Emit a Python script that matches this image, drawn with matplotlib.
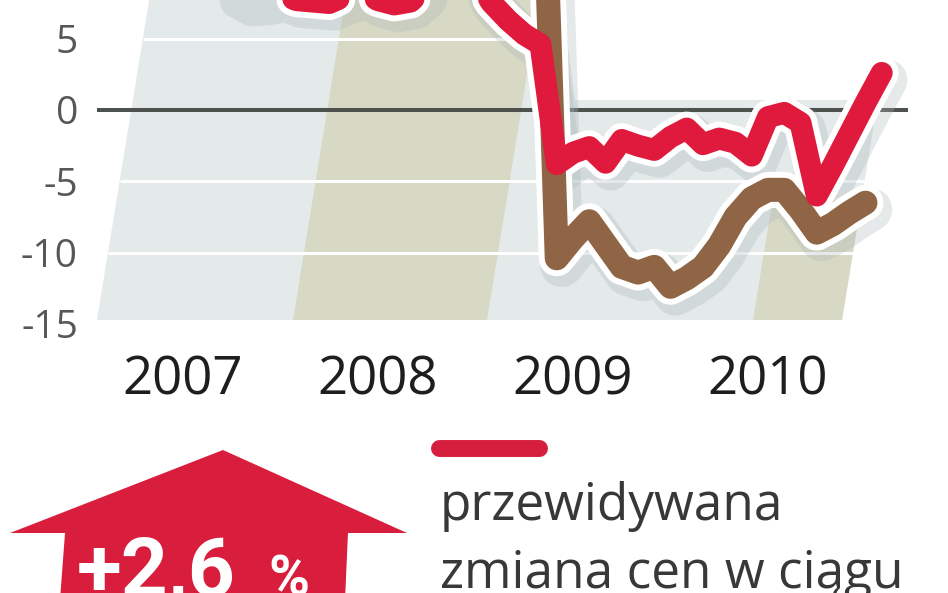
import numpy as np
import matplotlib.pyplot as plt
from matplotlib.patches import Polygon
from matplotlib import transforms

plt.rcParams['font.family'] = ['Open Sans', 'DejaVu Sans']

# month index, 0 = January 2007
months_red = np.arange(-6, 44)
months_brown = np.arange(-6, 43)

# expected price change (red) - values above ~8 are cut off in the original
red = [11.0, 11.5, 12.0, 11.2, 12.5, 11.8, 12.2, 11.0, 10.0, 8.4,
       7.8, 7.9, 8.1, 7.7, 7.6, 7.5, 8.0, 8.3, 7.7, 7.4,
       7.6, 8.6, 10.0, 10.5, 9.2, 7.5, 6.3, 5.3, 4.6, -3.8,
       -3.0, -2.6, -3.7, -2.1, -2.5, -2.8, -1.9, -1.3, -2.4, -2.0,
       -2.3, -3.2, -0.5, -0.2, -0.9, -6.0, -3.9, -1.7, 0.5, 2.6]

# second series (brown) - off the top of the chart before the crash
brown = [15.5, 16.0, 17.2, 16.5, 18.0, 17.4, 18.5, 17.8, 19.0, 18.2,
         19.5, 18.8, 20.0, 19.4, 20.5, 19.8, 20.8, 19.6, 20.2, 18.9,
         19.5, 18.4, 17.6, 16.8, 17.2, 15.9, 17.0, 20.0, 24.0, -10.4,
         -9.0, -7.8, -9.4, -11.0, -11.4, -11.0, -12.4, -11.8, -11.0, -9.5,
         -7.5, -6.2, -5.6, -5.6, -7.0, -8.6, -8.0, -7.2, -6.5]

year_ticks = [0, 12, 24, 36]
year_labels = ["2007", "2008", "2009", "2010"]
y_ticks = [5, 0, -5, -10, -15]
y_labels = ["5", "0", "-5", "-10", "-15"]
grid_values = [5, -5, -10]
legend_text = ["przewidywana", "zmiana cen w ciągu"]
badge_value = "+2,6"

RED = "#e01a3c"
BROWN = "#8f6546"

W, H = 948, 593
fig = plt.figure(figsize=(W / 100, H / 100), dpi=100)

# background layer in pixel coordinates
bg = fig.add_axes([0, 0, 1, 1])
bg.set_xlim(0, W)
bg.set_ylim(H, 0)
bg.axis("off")

slant = 0.163  # perspective slant of the panel edges


def edge(x_bottom, py):
    return x_bottom + (320 - py) * slant


panel = [(edge(97, 0), 0), (562, 0), (575, 100), (edge(842, 100), 100),
         (842, 320), (97, 320)]
bg.add_patch(Polygon(panel, closed=True, fc="#e4e9ea", ec="none"))
band08 = [(edge(293, 0), 0), (edge(487, 0), 0), (487, 320), (293, 320)]
bg.add_patch(Polygon(band08, closed=True, fc="#d7d9c5", ec="none"))
band10 = [(edge(753, 200), 200), (edge(842, 200), 200), (842, 320), (753, 320)]
bg.add_patch(Polygon(band10, closed=True, fc="#d7d9c5", ec="none"))

# arrow badge
arrow = [(223, 450), (407, 533), (348, 533), (345, 600), (60, 600), (65, 533), (10, 533)]
bg.add_patch(Polygon(arrow, closed=True, fc="#d91d3d", ec="none"))
badge_font = ['Roboto', 'DejaVu Sans']
bg.text(77, 596, badge_value, color="white", fontsize=59, fontweight="bold",
        family=badge_font, ha="left", va="baseline")
bg.text(268, 596, "%", color="white", fontsize=40, fontweight="bold",
        family=badge_font, ha="left", va="baseline")

# legend
bg.plot([439, 539], [448, 448], color="#d61f3f", lw=12.2, solid_capstyle="round")
bg.text(440, 520, legend_text[0], fontsize=37, color="#383838", va="baseline")
bg.text(440, 588, legend_text[1], fontsize=37, color="#383838", va="baseline")

# data axes
ax = fig.add_axes([97 / W, (H - 330) / H, (908 - 97) / W, 330 / H])
ax.patch.set_alpha(0)
ax.set_xlim(-86 / 16.25, 725 / 16.25)
ax.set_ylim(-220 / 14.26, 110 / 14.26)
for s in ax.spines.values():
    s.set_visible(False)


def px_to_month(px):
    return (px - 183) / 16.25


def value_to_py(v):
    return 110 - v * 14.26


# white grid lines on the panel
for v in grid_values:
    py = value_to_py(v)
    right = 565 if py < 100 else edge(842, py)
    ax.hlines(v, px_to_month(edge(97, py)), px_to_month(right),
              color="white", lw=2.2, zorder=1)

ax.axhline(0, color="#4d524e", lw=2.9, zorder=2)

shadow_tr = transforms.offset_copy(ax.transData, fig=fig, x=5, y=-7, units="dots")
series = [(months_brown, brown, BROWN, 17.3), (months_red, red, RED, 15.8)]
style = dict(solid_joinstyle="round", solid_capstyle="round")
for m, vals, col, lw in series:
    ax.plot(m, vals, color="#aab7b7", lw=lw + 14, alpha=0.3,
            transform=shadow_tr, zorder=3, **style)
for m, vals, col, lw in series:
    ax.plot(m, vals, color="white", lw=lw + 8.6, zorder=4, **style)
for i, (m, vals, col, lw) in enumerate(series):
    ax.plot(m, vals, color=col, lw=lw, zorder=5 + i, **style)

ax.set_yticks(y_ticks, y_labels)
ax.set_xticks(year_ticks, year_labels)
ax.tick_params(axis="y", length=0, pad=13.7, labelsize=28, labelcolor="#575757")
ax.tick_params(axis="x", length=0, pad=17, labelsize=38, labelcolor="#1e1e1e")

fig.savefig("out.png", dpi=100)
